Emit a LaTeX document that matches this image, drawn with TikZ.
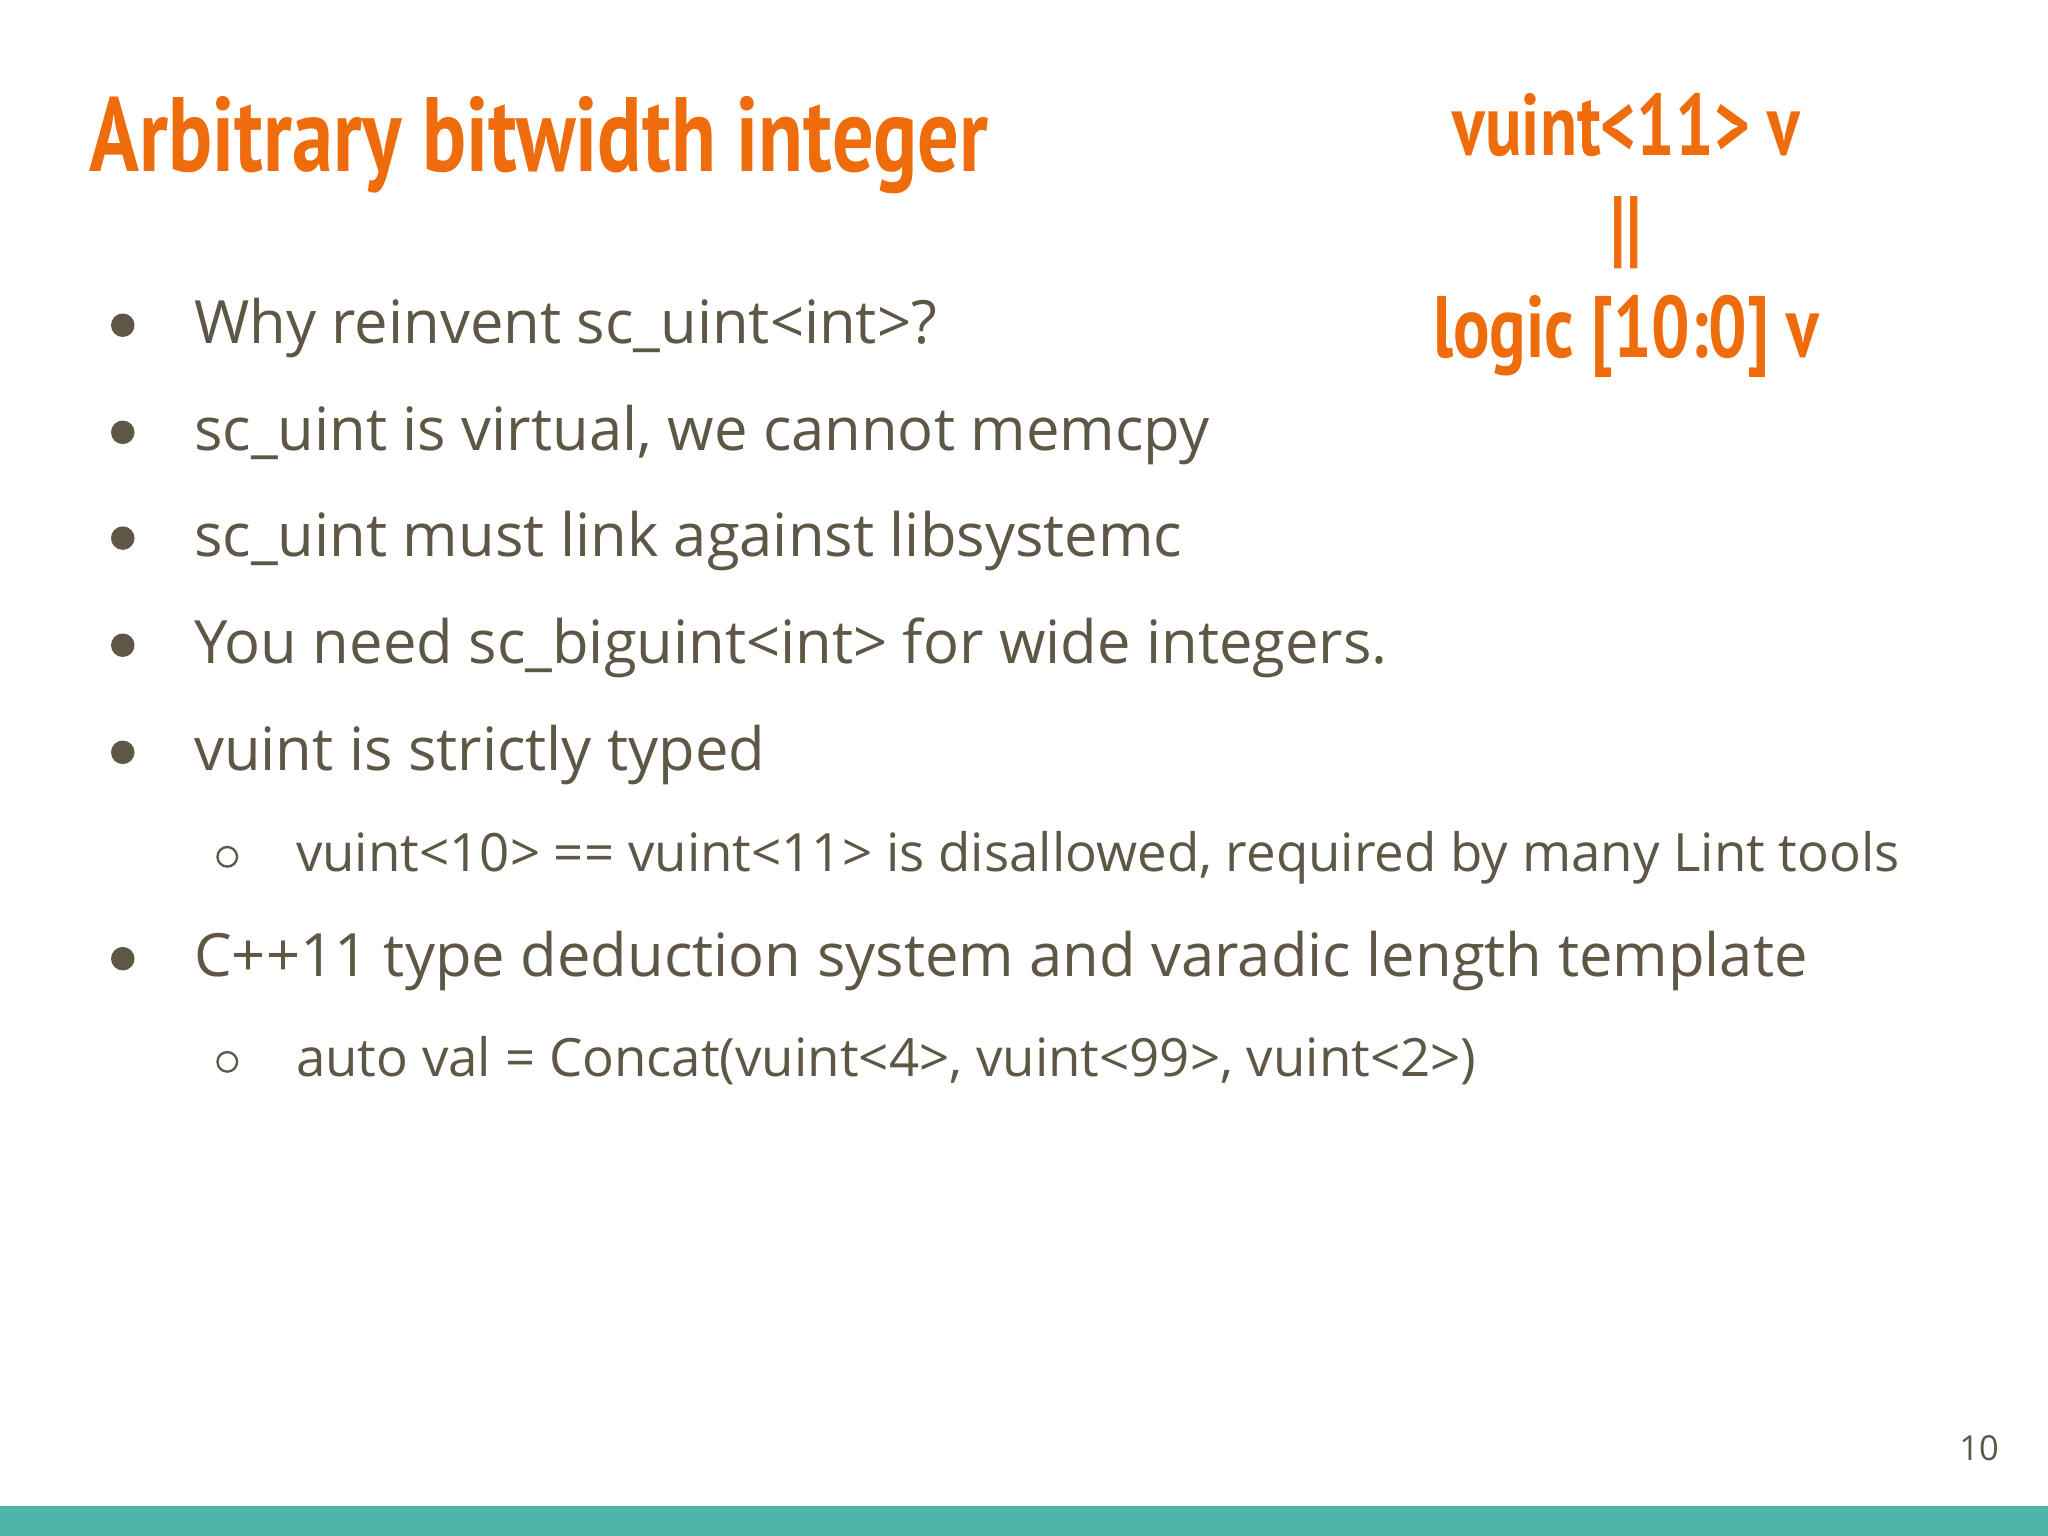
\documentclass[tikz,border=0pt]{standalone}
\usepackage{fontspec}
\setmainfont{Open Sans}
\newfontfamily\titlefont[FakeStretch=0.78]{PT Sans Bold}
\newfontfamily\symfont{DejaVu Sans}
\definecolor{orng}{HTML}{EE6C0C}
\definecolor{txt}{HTML}{5E5746}
\definecolor{teal}{HTML}{4DB6A9}
\begin{document}
\begin{tikzpicture}[x=0.01cm,y=-0.01cm,
  body/.style={anchor=base west,inner sep=0,text=txt,font=\fontsize{13}{15}\selectfont},
  sub/.style={anchor=base west,inner sep=0,text=txt,font=\fontsize{11.5}{14}\selectfont},
  dot/.style={circle,fill=txt,inner sep=0,minimum size=0.18cm},
  ring/.style={circle,draw=txt,line width=0.5pt,inner sep=0,minimum size=0.15cm},
  ttl/.style={inner sep=0,text=orng,font=\titlefont\fontsize{23}{26}\selectfont},
  rt/.style={anchor=base,inner sep=0,text=orng,font=\titlefont\fontsize{19}{22}\selectfont}]
\useasboundingbox (0,0) rectangle (1568,1176);
\fill[white] (0,0) rectangle (1568,1176);
\fill[teal] (0,1153) rectangle (1568,1176);
\node[ttl,anchor=base west] (title) at (68,131) {Arbitrary bitwidth integer};
\node[rt] (r1) at (1245,119) {vuint<11> v};
\node[rt] (r2) at (1245,197) {||};
\node[rt] (r3) at (1245,274) {logic [10:0] v};
\foreach \y/\t [count=\i] in {263/{Why reinvent sc\_uint<int>?},345/{sc\_uint is virtual, we cannot memcpy},426/{sc\_uint must link against libsystemc},508/{You need sc\_biguint<int> for wide integers.},590/{vuint is strictly typed},748/{C++11 type deduction system and varadic length template}}{
  \node[dot] (b\i) at (94,\y-14) {};
  \node[body] (t\i) at (148,\y) {\t};
}
\node[ring] (s1) at (174,656) {};
\node[sub] (u1) at (226,667) {vuint<10> == vuint<11> is disallowed, required by many Lint tools};
\node[ring] (s2) at (174,813) {};
\node[sub] (u2) at (226,824) {auto val = Concat(vuint<4>, vuint<99>, vuint<2>)};
\node[anchor=base east,inner sep=0,text=txt,font=\fontsize{7.5}{9}\selectfont] (pg) at (1531,1118) {10};
\end{tikzpicture}
\end{document}
